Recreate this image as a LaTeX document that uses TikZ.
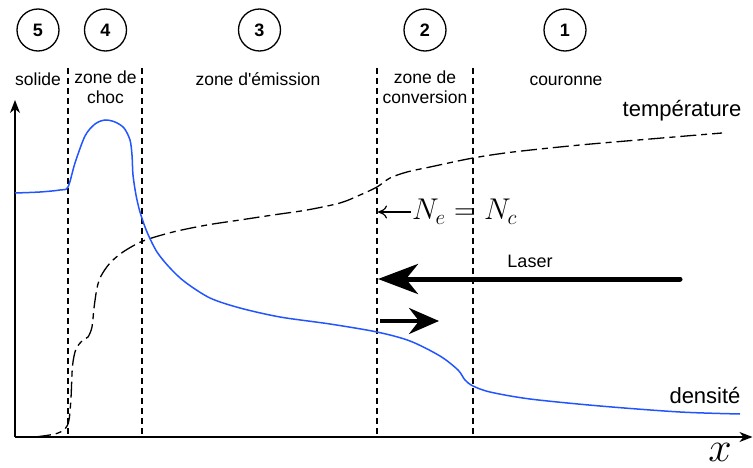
\RequirePackage{fix-cm}
\documentclass[tikz,border=0pt]{standalone}
\usepackage{fontspec}
\setmainfont{Liberation Sans}
\usepackage{tikz}
\usetikzlibrary{arrows.meta}
\definecolor{densblue}{RGB}{34,85,255}
\tikzset{
  zonenum/.style={draw, circle, line width=1.3pt, minimum size=42pt, inner sep=0pt,
    font=\fontsize{18}{18}\selectfont\bfseries},
  zonename/.style={anchor=north, align=center, inner sep=0pt,
    font=\fontsize{17.5}{20.5}\selectfont, execute at begin node=\strut},
  border/.style={line width=1.2pt, dash pattern=on 6pt off 4pt},
  axis/.style={line width=1.5pt, -{Stealth[length=13pt,width=10pt,inset=4pt]}},
  tempcurve/.style={line width=1.3pt, dash pattern=on 16pt off 5pt on 6pt off 5pt},
  denscurve/.style={line width=1.5pt, draw=densblue},
  curvename/.style={anchor=base, font=\fontsize{22}{22}\selectfont},
}
% numbered circle and zone title
\newcommand{\zonecircle}[3]{%
  \node[zonenum] (c#1) at (#2,30) {#3};}
\newcommand{\zonetitle}[3]{%
  \node[zonename] (z#1) at (#2,70.6) {#3};}

\begin{document}
\begin{tikzpicture}[x=1pt, y=-1pt]
  \useasboundingbox (0,0) rectangle (753,468);
  \zonecircle{five}{38}{5}
  \zonecircle{four}{105.5}{4}
  \zonecircle{three}{259.5}{3}
  \zonecircle{two}{425}{2}
  \zonecircle{one}{565}{1}
  \zonetitle{five}{38}{solide}
  \zonetitle{four}{105.5}{zone de\\choc}
  \zonetitle{three}{258}{zone d\textquotesingle émission}
  \zonetitle{two}{425}{zone de\\conversion}
  \zonetitle{one}{566}{couronne}
  % zone borders
  \foreach \bx/\bn in {68/sh, 142/em, 377/cv, 473/co} {
    \coordinate (\bn-top) at (\bx,68);
    \coordinate (\bn-bot) at (\bx,437);
    \draw[border] (\bn-top) -- (\bn-bot);
  }
  % axes
  \coordinate (origin) at (15,437);
  \coordinate (ytip) at (15,100);
  \coordinate (xtip) at (752.5,437);
  \draw[axis] (origin) -- (ytip);
  \draw[axis] (origin) -- (xtip);
  \node[font=\fontsize{42}{42}\selectfont] (xlabel) at (720,452) {$x$};
  % temperature
  \draw[tempcurve] plot[smooth, tension=0.5] coordinates {
    (35,437) (55,434) (65,429) (69,420) (71,398) (72.5,366) (76,349) (83,340)
    (88,337) (92,327) (94,308) (97,288) (101,276) (110,263) (123,252) (143,241)
    (173,232) (207,225) (240,220) (273,215) (307,210) (340,203) (360,195)
    (377,187) (390,178) (407,172) (430,167) (473,158) (513,152) (580,145)
    (650,139) (722,133)};
  \node[curvename] (tlabel) at (682,117) {température};
  % density
  \draw[denscurve] plot[smooth, tension=0.5] coordinates {
    (15,193) (40,192) (60,190) (68,187) (75,163) (85,136) (95,124) (105,120)
    (115,122) (124,128) (130,140) (132,155) (133,175) (136,195) (140,212)
    (147,232) (157,252) (170,268) (185,282) (210,298) (240,308) (280,317)
    (330,324) (377,332) (410,341) (440,356) (458,370) (465,380) (473,386)
    (490,392) (530,399) (600,406) (680,412) (740,414)};
  \node[curvename] (dlabel) at (705,403) {densité};
  % critical density
  \node[anchor=west, inner sep=1pt, font=\fontsize{30}{30}\selectfont] (ncrit)
    at (411,212) {$N_e = N_c$};
  \coordinate (crit) at (378,212);
  \draw[line width=1.2pt, -{To[length=9pt,width=13pt]}] (ncrit.west) -- (crit);
  % laser
  \coordinate (laserstart) at (680,279);
  \coordinate (lasertip) at (378,279);
  \draw[line width=5pt, line cap=round, -{Stealth[length=40pt,width=30pt,inset=12pt]}]
    (laserstart) -- (lasertip);
  \node[font=\fontsize{18}{18}\selectfont] (laser) at (530,261) {Laser};
  \coordinate (flowstart) at (380,321);
  \coordinate (flowtip) at (439,321);
  \draw[line width=4pt, -{Stealth[length=30pt,width=26pt,inset=10pt]}]
    (flowstart) -- (flowtip);
\end{tikzpicture}
\end{document}
